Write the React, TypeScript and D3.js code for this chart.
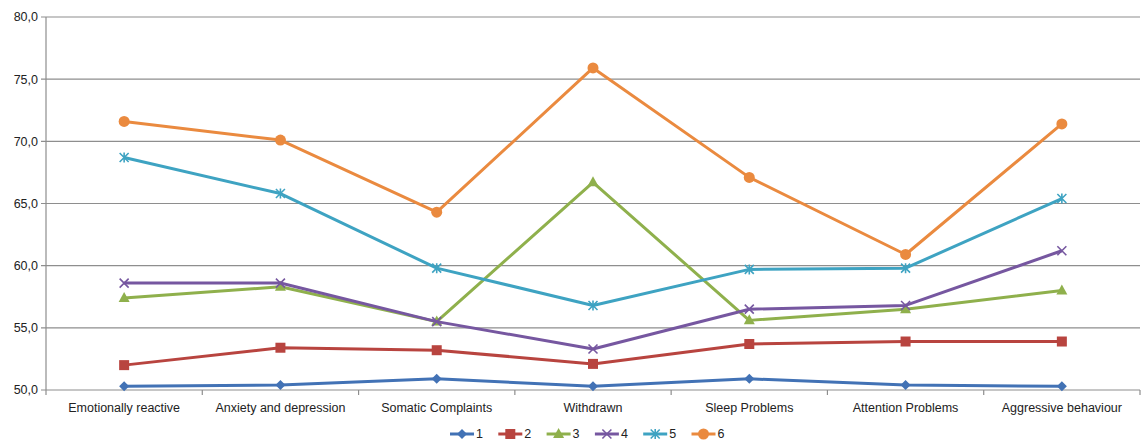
import React from 'react';
import * as d3 from 'd3';

const categories = [
  'Emotionally reactive',
  'Anxiety and depression',
  'Somatic Complaints',
  'Withdrawn',
  'Sleep Problems',
  'Attention Problems',
  'Aggressive behaviour',
];

const seriesNames = ['1', '2', '3', '4', '5', '6'];

const series1 = [50.3, 50.4, 50.9, 50.3, 50.9, 50.4, 50.3];
const series2 = [52.0, 53.4, 53.2, 52.1, 53.7, 53.9, 53.9];
const series3 = [57.4, 58.3, 55.5, 66.7, 55.6, 56.5, 58.0];
const series4 = [58.6, 58.6, 55.5, 53.3, 56.5, 56.8, 61.2];
const series5 = [68.7, 65.8, 59.8, 56.8, 59.7, 59.8, 65.4];
const series6 = [71.6, 70.1, 64.3, 75.9, 67.1, 60.9, 71.4];

const yTicks = [50, 55, 60, 65, 70, 75, 80];

const colors = ['#4272b5', '#b8443f', '#8fb04c', '#7657a0', '#3ea3c2', '#ea8a3f'];
const markers = ['diamond', 'square', 'triangle', 'x', 'asterisk', 'circle'];

const width = 1143;
const height = 442;
const margin = { left: 46, right: 3, top: 17, bottom: 52 };

function Marker({ kind, x, y, color }: { kind: string; x: number; y: number; color: string }) {
  switch (kind) {
    case 'diamond':
      return <path d={`M${x},${y - 5}L${x + 5},${y}L${x},${y + 5}L${x - 5},${y}Z`} fill={color} />;
    case 'square':
      return <rect x={x - 5} y={y - 5} width={10} height={10} fill={color} />;
    case 'triangle':
      return <path d={`M${x},${y - 6}L${x + 5.5},${y + 4}L${x - 5.5},${y + 4}Z`} fill={color} />;
    case 'x':
      return (
        <path d={`M${x - 4.5},${y - 4.5}L${x + 4.5},${y + 4.5}M${x - 4.5},${y + 4.5}L${x + 4.5},${y - 4.5}`}
          stroke={color} strokeWidth={1.6} fill="none" />
      );
    case 'asterisk':
      return (
        <path d={`M${x - 4.5},${y - 4.5}L${x + 4.5},${y + 4.5}M${x - 4.5},${y + 4.5}L${x + 4.5},${y - 4.5}M${x},${y - 5}L${x},${y + 5}`}
          stroke={color} strokeWidth={1.6} fill="none" />
      );
    default:
      return <circle cx={x} cy={y} r={5.5} fill={color} />;
  }
}

export default function App() {
  const data = [series1, series2, series3, series4, series5, series6];

  const x = d3.scaleBand()
    .domain(categories)
    .range([margin.left, width - margin.right]);

  const y = d3.scaleLinear()
    .domain([50, 80])
    .range([height - margin.bottom, margin.top]);

  const line = d3.line<number>()
    .x((d, i) => x(categories[i])! + x.bandwidth() / 2)
    .y(d => y(d));

  const font = '"Liberation Sans", Arial, sans-serif';
  const boundaries = categories.map(c => x(c)!).concat([x.range()[1]]);

  return (
    <svg width={width} height={height} style={{ position: 'absolute', left: 0, top: 0, background: '#fff' }}
      fontFamily={font}>
      {/* grid */}
      {yTicks.map(t => (
        <g key={t}>
          <line x1={margin.left - 5} x2={width - margin.right} y1={y(t)} y2={y(t)} stroke="#8e8e8e" strokeWidth={1.2} />
          <text x={margin.left - 8} y={y(t)} dy="0.35em" textAnchor="end" fontSize={12.5} fill="#222">
            {t.toFixed(1).replace('.', ',')}
          </text>
        </g>
      ))}
      <line x1={margin.left} x2={margin.left} y1={y(80)} y2={y(50)} stroke="#8e8e8e" strokeWidth={1.2} />
      {boundaries.map((b, i) => (
        <line key={i} x1={b} x2={b} y1={y(50)} y2={y(50) + 5} stroke="#8e8e8e" strokeWidth={1.2} />
      ))}
      {categories.map(c => (
        <text key={c} x={x(c)! + x.bandwidth() / 2} y={412} textAnchor="middle" fontSize={12.5} fill="#222">{c}</text>
      ))}

      {/* series */}
      {data.map((s, si) => (
        <g key={si}>
          <path d={line(s)!} fill="none" stroke={colors[si]} strokeWidth={3} strokeLinejoin="round" />
          {s.map((v, i) => (
            <Marker key={i} kind={markers[si]} x={x(categories[i])! + x.bandwidth() / 2} y={y(v)} color={colors[si]} />
          ))}
        </g>
      ))}

      {/* legend */}
      {seriesNames.map((n, i) => {
        const lx = 450 + i * 48.3;
        const ly = 434;
        return (
          <g key={n}>
            <line x1={lx} x2={lx + 24} y1={ly} y2={ly} stroke={colors[i]} strokeWidth={3} />
            <Marker kind={markers[i]} x={lx + 12} y={ly} color={colors[i]} />
            <text x={lx + 26} y={ly} dy="0.35em" fontSize={12.5} fill="#222">{n}</text>
          </g>
        );
      })}
    </svg>
  );
}
